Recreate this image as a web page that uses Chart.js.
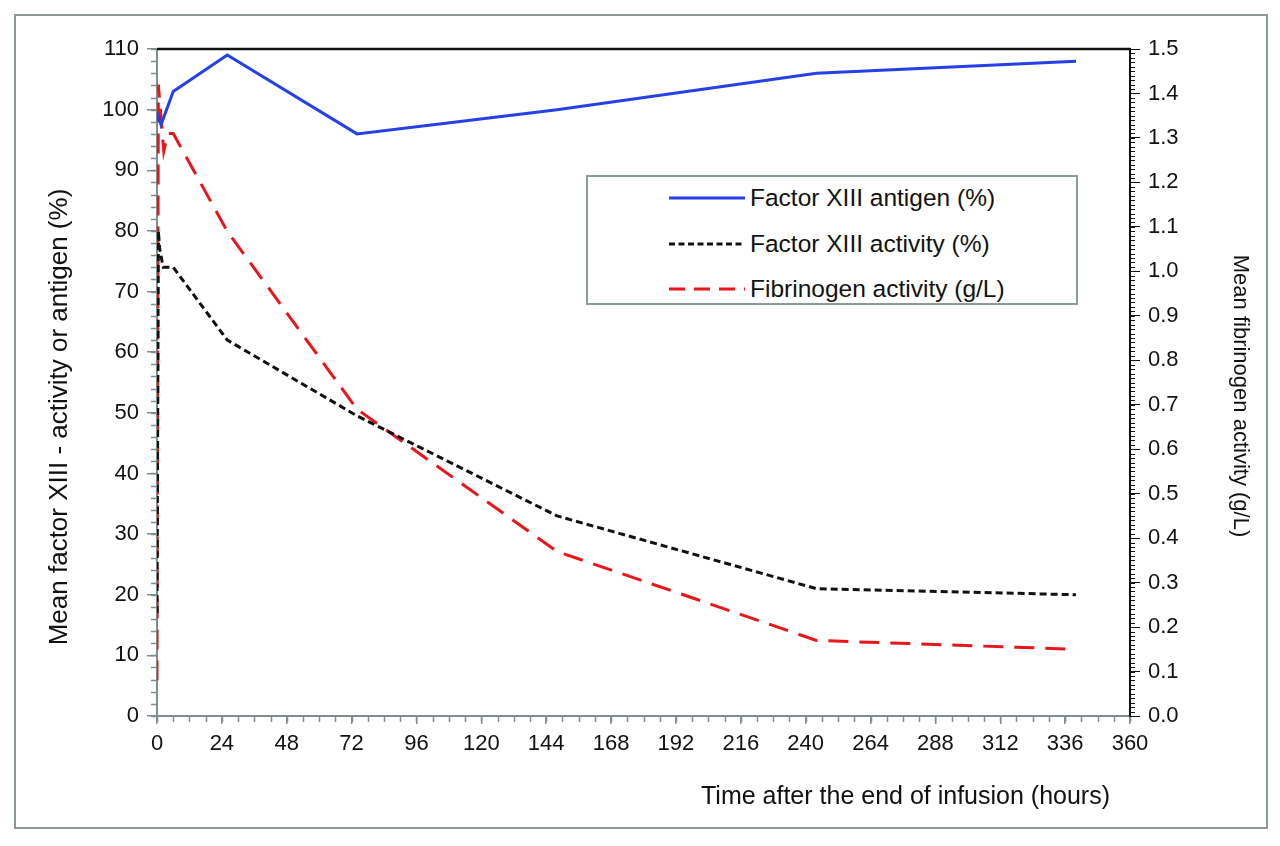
<!DOCTYPE html>
<html>
<head>
<meta charset="utf-8">
<script src="https://cdn.jsdelivr.net/npm/chart.js@4.4.1/dist/chart.umd.min.js"></script>
<style>
  html, body { margin: 0; padding: 0; background: #fff; }
  #wrap { position: relative; width: 1280px; height: 846px; overflow: hidden; }
  #frame { position: absolute; left: 14px; top: 14px; width: 1250px; height: 811px; border: 2px solid #8a9898; }
  canvas { position: absolute; left: 0; top: 0; }
  #legend { position: absolute; left: 586px; top: 175px; width: 488px; height: 126px; border: 2px solid #8d9a9a; background: #fff;
            font-family: "Liberation Sans", Arial, sans-serif; font-size: 24.5px; color: #111; }
  .row { position: absolute; left: 0; height: 28px; width: 100%; }
  .row svg { position: absolute; left: 81px; top: 12px; }
  .row span { position: absolute; left: 162px; top: 0; line-height: 28px; white-space: nowrap; }
</style>
</head>
<body>
<div id="wrap">
  <div id="frame"></div>
  <canvas id="c" width="1280" height="846"></canvas>
  <div id="legend"></div>
</div>
<script>
// ---- data ----
const antigenTime = [0, 1.5, 6, 26, 74, 148, 244, 340];
const antigenValues = [99.5, 97.5, 103, 109, 96, 100, 106, 108];

const activityTime = [0, 0.5, 1, 2.3, 6, 26, 74, 148, 244, 340];
const activityValues = [17, 80, 77, 74, 74, 62, 49.5, 33, 21, 20];

const fibTime = [0, 0.5, 2.5, 4, 6, 26, 74, 148, 244, 340];
const fibValues = [0.08, 1.42, 1.27, 1.31, 1.31, 1.09, 0.69, 0.37, 0.17, 0.15];

const seriesNames = ["Factor XIII antigen (%)", "Factor XIII activity (%)", "Fibrinogen activity (g/L)"];
const xTitle = "Time after the end of infusion (hours)";
const yTitle = "Mean factor XIII - activity or antigen (%)";
const y1Title = "Mean fibrinogen activity (g/L)";
const xTickStep = 24;
const leftTickStep = 10;
const rightTickStep = 0.1;

const BLUE = "#2440e6", BLACK = "#111111", RED = "#e8151b", GRAY = "#7e8e8e";
const FONT = "'Liberation Sans', Arial, sans-serif";

function pts(t, v) { return t.map((x, i) => ({ x: x, y: v[i] })); }

const extras = {
  id: 'extras',
  afterDraw(chart) {
    const ctx = chart.ctx, a = chart.chartArea;
    const x = chart.scales.x, y = chart.scales.y, y1 = chart.scales.y1;
    ctx.save();
    ctx.lineWidth = 1.5;
    ctx.strokeStyle = GRAY;
    ctx.beginPath();
    for (let v = 0; v <= 360; v += 6) {
      const px = Math.round(x.getPixelForValue(v)) + 0.5;
      ctx.moveTo(px, a.bottom); ctx.lineTo(px, a.bottom + 6);
    }
    for (let v = 0; v <= 110; v += 2) {
      const py = Math.round(y.getPixelForValue(v)) + 0.5;
      ctx.moveTo(a.left, py); ctx.lineTo(a.left - 6, py);
    }
    ctx.stroke();
    ctx.strokeStyle = BLACK;
    ctx.lineWidth = 1;
    ctx.beginPath();
    for (let i = 0; i <= 150; i++) {
      const py = Math.round(y1.getPixelForValue(i / 100)) + 0.5;
      ctx.moveTo(a.right, py); ctx.lineTo(a.right + 5, py);
    }
    ctx.stroke();
    ctx.lineWidth = 2.5;
    ctx.strokeStyle = BLACK;
    ctx.beginPath();
    ctx.moveTo(a.left, a.top); ctx.lineTo(a.right, a.top);
    ctx.stroke();

    // axis titles
    ctx.fillStyle = BLACK;
    ctx.textBaseline = 'middle';
    ctx.font = "25px " + FONT;
    ctx.textAlign = 'right';
    ctx.fillText(xTitle, a.right - 20, 797);

    ctx.save();
    ctx.translate(60, 417);
    ctx.rotate(-Math.PI / 2);
    ctx.textAlign = 'center';
    ctx.font = "26px " + FONT;
    ctx.fillText(yTitle, 0, 0);
    ctx.restore();

    ctx.save();
    ctx.translate(1240, 396);
    ctx.rotate(Math.PI / 2);
    ctx.textAlign = 'center';
    ctx.font = "22px " + FONT;
    ctx.fillText(y1Title, 0, 0);
    ctx.restore();

    ctx.restore();
  }
};

const chart = new Chart(document.getElementById('c'), {
  type: 'line',
  data: {
    datasets: [
      { label: seriesNames[0], data: pts(antigenTime, antigenValues), yAxisID: 'y',
        borderColor: BLUE, borderWidth: 3, pointRadius: 0, tension: 0, fill: false },
      { label: seriesNames[1], data: pts(activityTime, activityValues), yAxisID: 'y',
        borderColor: BLACK, borderWidth: 3, borderDash: [7, 4], pointRadius: 0, tension: 0, fill: false },
      { label: seriesNames[2], data: pts(fibTime, fibValues), yAxisID: 'y1',
        borderColor: RED, borderWidth: 3, borderDash: [20, 11], pointRadius: 0, tension: 0, fill: false }
    ]
  },
  options: {
    responsive: false,
    devicePixelRatio: 1,
    animation: false,
    layout: { padding: { top: 49, left: 0, right: 0, bottom: 0 } },
    plugins: { legend: { display: false }, tooltip: { enabled: false } },
    scales: {
      x: {
        type: 'linear', min: 0, max: 360,
        afterFit: s => { s.height = 130; },
        ticks: { stepSize: xTickStep, color: BLACK, font: { family: FONT, size: 22 }, padding: 7, maxRotation: 0, autoSkip: false },
        grid: { drawOnChartArea: false, drawTicks: true, tickLength: 8, color: GRAY, lineWidth: 1.5 },
        border: { color: GRAY, width: 2 },
        title: { display: false, text: xTitle }
      },
      y: {
        position: 'left', min: 0, max: 110,
        afterFit: s => { s.width = 157; },
        ticks: { stepSize: leftTickStep, color: BLACK, font: { family: FONT, size: 22 }, padding: 8 },
        grid: { drawOnChartArea: false, drawTicks: true, tickLength: 10, color: GRAY, lineWidth: 1.5 },
        border: { color: GRAY, width: 2 },
        title: { display: false, text: yTitle }
      },
      y1: {
        position: 'right', min: 0, max: 1.5,
        afterFit: s => { s.width = 150; },
        ticks: { stepSize: rightTickStep, color: BLACK, font: { family: FONT, size: 22 }, padding: 8,
                 callback: v => Number(v).toFixed(1) },
        grid: { drawOnChartArea: false, drawTicks: true, tickLength: 10, color: BLACK, lineWidth: 1 },
        border: { color: BLACK, width: 2 },
        title: { display: false, text: y1Title }
      }
    }
  },
  plugins: [extras]
});

const legend = document.getElementById('legend');
const rowTops = [7, 53, 98];
chart.data.datasets.forEach((ds, i) => {
  const row = document.createElement('div');
  row.className = 'row';
  row.style.top = rowTops[i] + 'px';
  const dashLegend = i === 1 ? '6,3.5' : (i === 2 ? '16,9' : 'none');
  row.innerHTML = '<svg width="76" height="4"><line x1="0" y1="2" x2="76" y2="2" stroke="' + ds.borderColor +
    '" stroke-width="3" stroke-dasharray="' + dashLegend + '"/></svg><span></span>';
  row.querySelector('span').textContent = ds.label;
  legend.appendChild(row);
});
</script>
</body>
</html>
